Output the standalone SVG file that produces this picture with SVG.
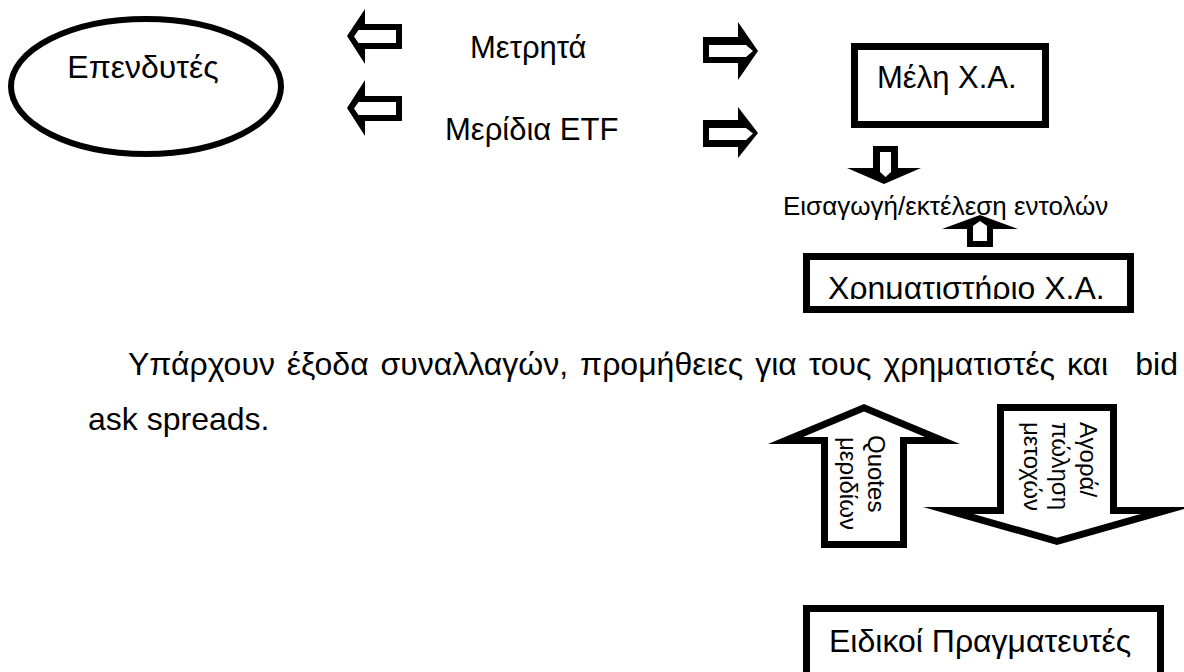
<svg xmlns="http://www.w3.org/2000/svg" width="1184" height="672" viewBox="0 0 1184 672">
<style>
text{font-family:"Liberation Sans",Arial,sans-serif;fill:#000}
.t32{font-size:32px}
.t31{font-size:31px}
.t26{font-size:26px}
.t24{font-size:24px}
.blk{fill:#000}
.wht{fill:#fff}
.box{fill:#fff;stroke:#000;stroke-width:7}
</style>
<defs>
<clipPath id="clipX"><rect x="810" y="258" width="320" height="41"/></clipPath>
</defs>
<rect width="1184" height="672" fill="#fff"/>
<g id="investors">
<ellipse cx="146" cy="86.5" rx="135" ry="67.5" fill="#fff" stroke="#000" stroke-width="6"/>
<text class="t32" x="143" y="78" text-anchor="middle">Επενδυτές</text>
</g>
<g id="members">
<rect class="box" x="854.5" y="46.5" width="191" height="78"/>
<text class="t31" x="877" y="88">Μέλη Χ.Α.</text>
</g>
<g id="exchange">
<rect class="box" x="806.5" y="256.5" width="324" height="53"/>
<text class="t32" x="828" y="299" clip-path="url(#clipX)">Χρηματιστήριο Χ.Α.</text>
</g>
<g id="dealers">
<rect class="box" x="806.5" y="608.5" width="354" height="100"/>
<text class="t32" x="829" y="652">Ειδικοί Πραγματευτές</text>
</g>
<g id="connectors">
<polygon class="blk" points="347,36 365,9 365,24 402,24 402,49 365,49 365,64"/>
<polygon class="wht" points="354,36.5 358.5,30 396,30 396,43 358.5,43"/>
<polygon class="blk" points="347,108 365,80 365,96 402,96 402,121 365,121 365,136"/>
<polygon class="wht" points="354,108.5 358.5,102 396,102 396,115 358.5,115"/>
<polygon class="blk" points="703,37 738,37 738,22 758,51 738,80 738,63 703,63"/>
<polygon class="wht" points="709,45 746,45 753,51 746,57 709,57"/>
<polygon class="blk" points="703,120 738,120 738,107 758,133 738,158 738,147 703,147"/>
<polygon class="wht" points="709,128 746,128 753,133.5 746,140 709,140"/>
<polygon class="blk" points="873,146 898,146 898,168 921,168 884,184 847,168 873,168"/>
<polygon class="wht" points="880,152 891,152 891,172 885.5,177 880,172"/>
<polygon class="blk" points="980,215 1018,229 993,229 993,247 967,247 967,229 942,229"/>
<polygon class="wht" points="973,226 980,221 987,226 987,241 973,241"/>
<polygon class="blk" points="864,404 960,444 907,444 907,548 821,548 821,444 768,444"/>
<polygon class="wht" points="864,411.6 925,437 900,437 900,541 828,541 828,437 803,437"/>
<polygon class="blk" points="997,404 1117,404 1117,507 1191,507 1057,545 923,507 997,507"/>
<polygon class="wht" points="1004,411 1110,411 1110,514 1140.5,514 1057,537.7 973.5,514 1004,514"/>
</g>
<g id="labels">
<text class="t31" x="470" y="58">Μετρητά</text>
<text class="t31" x="445" y="140">Μερίδια ETF</text>
<text class="t26" x="783" y="215">Εισαγωγή/εκτέλεση εντολών</text>
<text class="t24" transform="translate(868,435) rotate(90)">Quotes</text>
<text class="t24" transform="translate(840,437) rotate(90)">μεριδίων</text>
<text class="t24" transform="translate(1080,422) rotate(90)">Αγορά/</text>
<text class="t24" transform="translate(1052,422) rotate(90)">πώληση</text>
<text class="t24" transform="translate(1024,422) rotate(90)">μετοχών</text>
</g>
<g id="paragraph">
<text class="t32" x="128" y="375" word-spacing="3">Υπάρχουν έξοδα συναλλαγών, προμήθειες για τους χρηματιστές και</text>
<text class="t32" x="1178" y="375" text-anchor="end">bid</text>
<text class="t32" x="88" y="430">ask spreads.</text>
</g>
</svg>
